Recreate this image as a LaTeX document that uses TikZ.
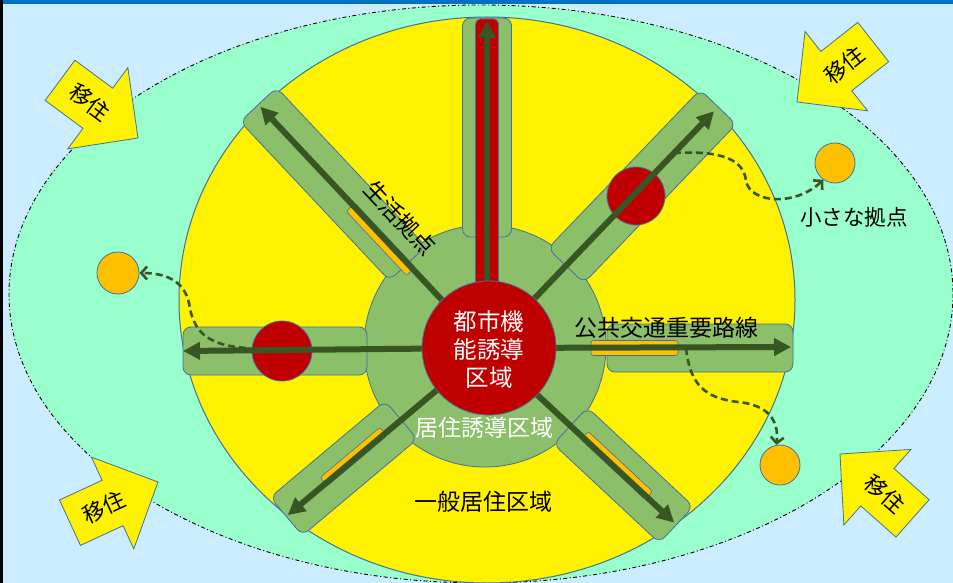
\documentclass[tikz,border=0pt]{standalone}
\usepackage{fontspec}
\setmainfont{Noto Sans CJK JP}
\usetikzlibrary{arrows.meta}
\definecolor{bgblue}{HTML}{CCECFF}
\definecolor{topbar}{HTML}{0070C0}
\definecolor{mint}{HTML}{99FFCC}
\definecolor{corrgreen}{HTML}{8CBF6A}
\definecolor{darkgreen}{HTML}{375623}
\definecolor{hubred}{HTML}{C00000}
\definecolor{orng}{HTML}{FFC000}
\definecolor{outl}{HTML}{41719C}
\newcommand{\fsz}[1]{\fontsize{#1}{#1}\selectfont}
\begin{document}
\begin{tikzpicture}[x=1pt,y=-1pt,
  corr/.style={fill=corrgreen, draw=outl, line width=0.8pt, rounded corners=8pt},
  stripbox/.style={fill=orng, draw=outl, line width=0.6pt, rounded corners=2.5pt},
  spoke/.style={draw=darkgreen, line width=6pt, -{Triangle[length=17pt,width=17pt]}},
  dashline/.style={draw=darkgreen, line width=2.6pt, dash pattern=on 7pt off 4pt, -{Straight Barb[length=6pt,width=13pt,line width=2.6pt]}},
  migarrow/.style={fill=yellow, draw=outl, line width=0.8pt},
  smallcirc/.style={circle, fill=orng, draw=outl, line width=0.8pt, minimum size=#1, inner sep=0pt},
  redcirc/.style={circle, fill=hubred, draw=outl, line width=0.8pt, minimum size=#1, inner sep=0pt},
  lbl/.style={font=\fsz{23}, inner sep=0pt},
  miglbl/.style={font=\fsz{22}, inner sep=0pt}]
\useasboundingbox (0,0) rectangle (953,583);
\begin{scope}
\clip (0,0) rectangle (953,583);
\fill[bgblue] (0,0) rectangle (953,583);
% outer dashed ellipse
\draw[fill=mint, line width=0.9pt, dash pattern=on 4pt off 2.5pt on 1pt off 2.5pt] (481,294) ellipse [x radius=472, y radius=289];
% yellow area
\draw[fill=yellow, draw=outl, line width=1pt] (487,300) ellipse [x radius=308, y radius=283];
% hub green
\node[circle, fill=corrgreen, draw=outl, line width=0.8pt, minimum size=242pt, inner sep=0pt] (hubgreen) at (485,346) {};
\coordinate (hc) at (487,348);
% corridors
\begin{scope}[shift={(487,348)},rotate=90]
  \draw[corr] (111,-24.5) rectangle (330,24.5);
  \draw[fill=hubred, draw=outl, line width=0.7pt, rounded corners=5pt] (62,-11.5) rectangle (329,11.5);
  \coordinate (tipU) at (327,0);
\end{scope}
\begin{scope}[shift={(487,348)},rotate=133.2]
  \draw[corr] (116,-25) rectangle (334,25);
  \draw[stripbox] (108,-9) rectangle (196,3);
  \coordinate (tipUL) at (331,0);
\end{scope}
\begin{scope}[shift={(487,348)},rotate=46.2]
  \draw[corr] (114,-25) rectangle (334,25);
  \coordinate (tipUR) at (328,0);
  \coordinate (dsUR) at (270,0);
\end{scope}
\begin{scope}[shift={(487,348)},rotate=0]
  \draw[corr] (120,-24) rectangle (306,24);
  \draw[stripbox] (104,-7.5) rectangle (191,7.5);
  \coordinate (tipR) at (304,-1);
  \coordinate (dsR) at (199,0);
\end{scope}
\begin{scope}[shift={(487,348)},rotate=180]
  \draw[corr] (120,-27) rectangle (304,21);
  \coordinate (tipL) at (304,-3);
\end{scope}
\begin{scope}[shift={(487,348)},rotate=220]
  \draw[corr] (112,-25) rectangle (262,25);
  \draw[stripbox] (133,-3) rectangle (211,8);
  \coordinate (tipLL) at (260,0);
\end{scope}
\begin{scope}[shift={(487,348)},rotate=-43]
  \draw[corr] (114,-25) rectangle (259,25);
  \draw[stripbox] (131,-8) rectangle (219,3);
  \coordinate (tipLR) at (256,0);
\end{scope}
% small red circles (bases)
\node[redcirc=58pt] (rcUR) at (636,196) {};
\node[redcirc=60pt] (rcL) at (282,351) {};
\coordinate (dsL) at (246,348);
% spoke arrows
\draw[spoke] (hc) -- (tipU);
\draw[spoke] (hc) -- (tipUL);
\draw[spoke] (hc) -- (tipUR);
\draw[spoke] (hc) -- (tipR);
\draw[spoke] (hc) -- (tipL);
\draw[spoke] (hc) -- (tipLL);
\draw[spoke] (hc) -- (tipLR);
% hub red
\node[redcirc=134pt] (hubred) at (489,348) {};
\node[lbl, text=white, align=center, font=\fontsize{23.5}{28}\selectfont] (hubtxt) at (489,350) {都市機\\能誘導\\区域};
\node[lbl, text=white] (zone1) at (484,428) {居住誘導区域};
\node[lbl] (route) at (666,328) {公共交通重要路線};
\node[lbl] (zone2) at (483,502) {一般居住区域};
\node[lbl, font=\fsz{21.5}] (smallbase) at (854,217) {小さな拠点};
\node[lbl, rotate=-46.8] (lifebase) at (400,218) {生活拠点};
% orange small circles
\node[smallcirc=40pt] (oc1) at (835,163) {};
\node[smallcirc=42pt] (oc2) at (118,273) {};
\node[smallcirc=40pt] (oc3) at (780,465) {};
% dashed connectors
\draw[dashline] (dsUR) .. controls (722,150) and (744,160) .. (746,181) .. controls (750,203) and (795,207) .. (oc1.235);
\draw[dashline] (dsL) .. controls (205,345) and (193,330) .. (189,303) .. controls (184,281) and (166,273) .. (oc2.east);
\draw[dashline] (dsR) .. controls (690,385) and (705,398) .. (738,402) .. controls (768,405) and (779,420) .. (oc3.100);
% migration arrows
\foreach \nm/\tx/\ty/\ang/\tang in {m1/138/138/-36.5/-36.5, m2/797/102/218.2/38.2, m3/158/482/24.8/24.8, m4/840/454/138.4/-41.6}{
  \begin{scope}[shift={(\tx,\ty)},rotate=\ang]
    \draw[migarrow] (0,0) -- (-50,50.5) -- (-50,25) -- (-97,25) -- (-97,-25) -- (-50,-25) -- (-50,-50.5) -- cycle;
    \coordinate (\nm c) at (-60,0);
  \end{scope}
  \node[miglbl, rotate=\tang] (\nm t) at (\nm c) {移住};
}
% frame
\fill[topbar] (0,0) rectangle (953,4);
\fill[black] (0,0) rectangle (3,583);
\end{scope}
\end{tikzpicture}
\end{document}
